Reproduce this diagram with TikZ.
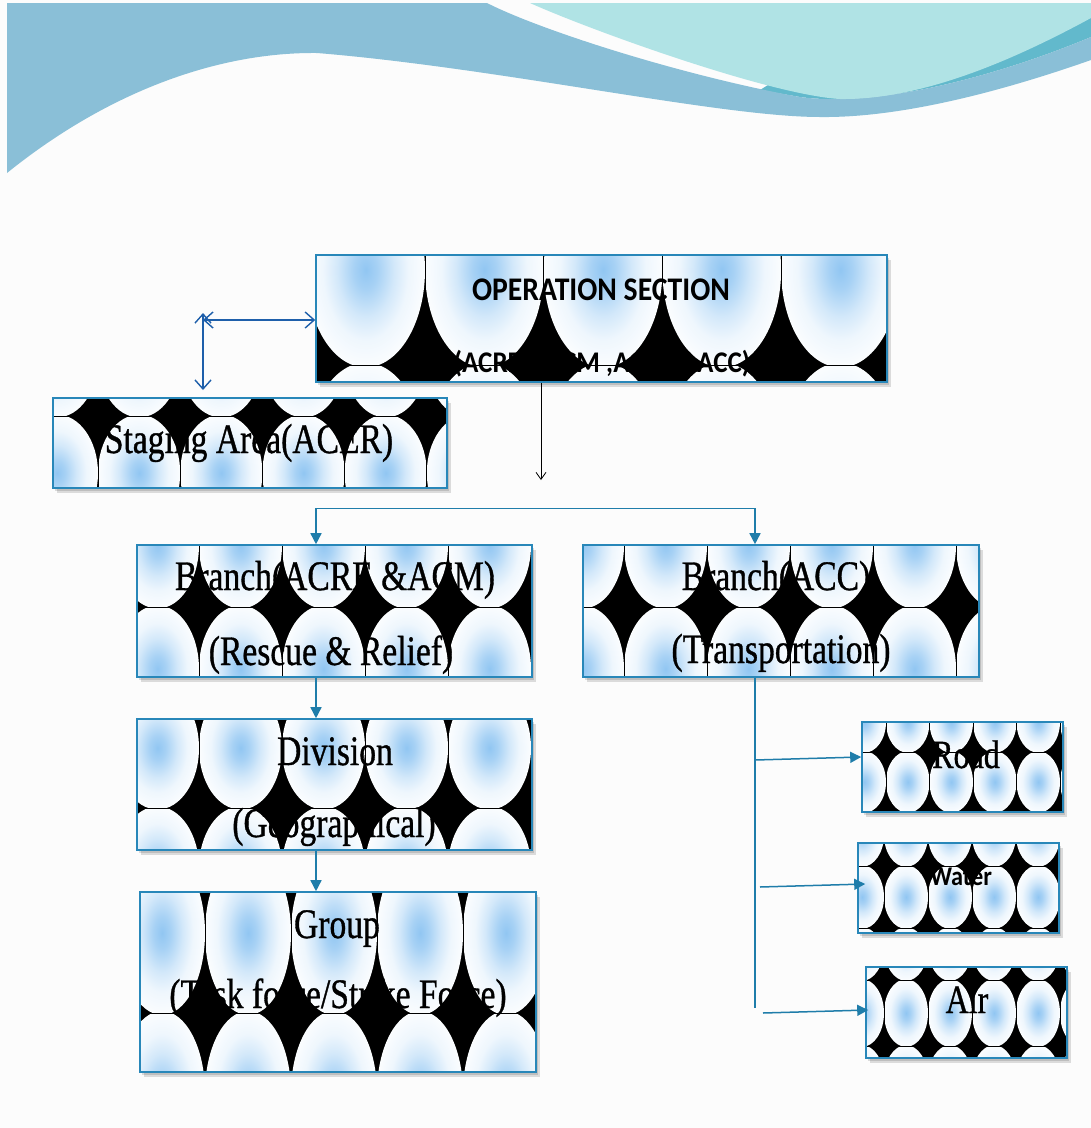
\documentclass[tikz,border=0pt]{standalone}
\usepackage{fontspec}
\setmainfont{Liberation Serif}[FakeStretch=0.8,FakeBold=0.8]
\newfontfamily\calfont{Carlito}[FakeStretch=0.9]
\usetikzlibrary{arrows.meta,fit,calc}

\definecolor{pagebg}{RGB}{252,252,252}
\definecolor{wavblue}{RGB}{138,191,215}
\definecolor{wavcyan}{RGB}{176,227,229}
\definecolor{wavteal}{RGB}{98,185,204}
\definecolor{tileblue}{RGB}{145,198,242}
\definecolor{boxline}{RGB}{40,135,185}
\definecolor{connteal}{RGB}{31,125,170}
\definecolor{dblblue}{RGB}{30,95,170}

\pgfdeclareradialshading{tileshade}{\pgfpoint{0bp}{0bp}}{%
  color(0bp)=(tileblue); color(5bp)=(tileblue!80!white);
  color(12bp)=(tileblue!40!white); color(18bp)=(tileblue!15!white);
  color(25bp)=(tileblue!4!white); color(50bp)=(white)}

\tikzset{
  pbox/.style={draw=boxline, line width=1.6pt, inner sep=0pt},
  tileline/.style={black, line width=0.7pt},
  boxshadow/.style={fill=black, opacity=0.13},
  conn/.style={draw=connteal, line width=1.5pt},
  tiptri/.style={-{Triangle[length=11pt,width=11pt]}},
  dbl/.style={draw=dblblue, line width=1.4pt, {Straight Barb[length=9pt,width=16pt]}-{Straight Barb[length=9pt,width=16pt]}},
  blk/.style={draw=black, line width=0.8pt, -{Straight Barb[length=7pt,width=10pt]}},
  lbl/.style={font=\fontsize{42}{44}\selectfont, anchor=base, inner sep=0pt},
  lblsm/.style={font=\fontsize{40}{42}\selectfont, anchor=base, inner sep=0pt},
  opslbl/.style={font=\calfont\bfseries\fontsize{33}{36}\selectfont, anchor=base, inner sep=0pt},
  wlbl/.style={font=\calfont\bfseries\fontsize{27}{29}\selectfont, anchor=base, inner sep=0pt}
}

\begin{document}
\begin{tikzpicture}[x=1pt,y=-1pt]

  % box fill: x1 y1 x2 y2, grid origin x0 y0, tile w h
  \newcommand*{\patfill}[8]{%
    \fill[boxshadow] (#1+2,#2+3) rectangle (#3+2,#4+3);
    \fill[boxshadow] (#1+4,#2+5) rectangle (#3+4,#4+5);
    \begin{scope}
      \clip (#1,#2) rectangle (#3,#4);
      \fill[black] (#1,#2) rectangle (#3,#4);
      \pgfmathtruncatemacro\iMin{floor((#1-#5)/#7)-1}%
      \pgfmathtruncatemacro\iMax{ceil((#3-#5)/#7)}%
      \pgfmathtruncatemacro\jMin{floor((#2-#6)/#8)-1}%
      \pgfmathtruncatemacro\jMax{ceil((#4-#6)/#8)}%
      \foreach \i in {\iMin,...,\iMax} {
        \foreach \j in {\jMin,...,\jMax} {
          \pgfmathsetmacro\cx{#5+(\i+0.5)*#7}%
          \pgfmathsetmacro\cy{#6+(\j+0.5)*#8}%
          \shade[shading=tileshade] (\cx,\cy) ellipse [x radius=#7/2, y radius=1.025*#8/2];
        }
        \pgfmathsetmacro\lx{#5+\i*#7}%
        \draw[tileline] (\lx,#2) -- (\lx,#4);
      }
      \foreach \j in {\jMin,...,\jMax} {
        \pgfmathsetmacro\ly{#6+\j*#8}%
        \draw[tileline] (#1,\ly) -- (#3,\ly);
      }
    \end{scope}}

  \useasboundingbox (0,0) rectangle (1091,1128);
  \fill[pagebg] (0,0) rectangle (1091,1128);

  % waves on top
  \fill[wavteal] (760,90) -- (800,97) .. controls (880,108) and (1000,75) .. (1091,37) -- (1091,3) -- (900,3) -- cycle;
  \fill[wavblue] (7,3) -- (487,3) .. controls (540,30) and (680,75) .. (800,97)
    .. controls (880,108) and (1000,75) .. (1091,37) -- (1091,60)
    .. controls (1000,92) and (900,118) .. (820,117)
    .. controls (720,117) and (500,68) .. (317,53)
    .. controls (220,52) and (110,90) .. (7,173) -- cycle;
  \fill[wavcyan] (530,3) -- (1091,3) -- (1091,18)
    .. controls (1010,62) and (920,100) .. (840,99)
    .. controls (770,95) and (590,30) .. (530,3) -- cycle;

  % boxes
  \patfill{316}{255}{887}{382}{425}{365}{118.7}{190}
  \node[pbox, fit={(316,255) (887,382)}] (ops) {};
  \patfill{53}{398}{447}{488}{98}{416}{82.2}{114}
  \node[pbox, fit={(53,398) (447,488)}] (stage) {};
  \patfill{137}{545}{532}{677}{199}{607}{83}{124}
  \node[pbox, fit={(137,545) (532,677)}] (brA) {};
  \patfill{583}{545}{979}{677}{624}{607}{83}{124}
  \node[pbox, fit={(583,545) (979,677)}] (brC) {};
  \patfill{137}{719}{532}{850}{199}{808}{83}{120}
  \node[pbox, fit={(137,719) (532,850)}] (div) {};
  \patfill{140}{892}{536}{1072}{205}{1013}{86}{160}
  \node[pbox, fit={(140,892) (536,1072)}] (grp) {};
  \patfill{862}{722}{1063}{812}{886}{752}{43.5}{60}
  \node[pbox, fit={(862,722) (1063,812)}] (road) {};
  \patfill{858}{843}{1059}{933}{884}{866}{44}{62}
  \node[pbox, fit={(858,843) (1059,933)}] (water) {};
  \patfill{866}{967}{1067}{1058}{884}{980}{44}{66}
  \node[pbox, fit={(866,967) (1067,1058)}] (air) {};

  % labels
  \node[opslbl] (ops-a) at (601,300) {OPERATION SECTION};
  \node[opslbl, font=\calfont\bfseries\fontsize{30}{32}\selectfont] (ops-b) at (602,372) {(ACRE \&ACM ,ACER \&ACC)};
  \node[lbl] (stage-a) at (249,453) {Staging Area(ACER)};
  \node[lbl] (brA-a) at (335,590) {Branch(ACRE \&ACM)};
  \node[lbl] (brA-b) at (331,665) {(Rescue \& Relief)};
  \node[lbl] (brC-a) at (776,590) {Branch(ACC)};
  \node[lbl] (brC-b) at (781,663) {(Transportation)};
  \node[lbl] (div-a) at (335,765) {Division};
  \node[lbl] (div-b) at (334,837) {(Geographical)};
  \node[lbl] (grp-a) at (337,938) {Group};
  \node[lbl] (grp-b) at (338,1008) {(Task force/Strike Force)};
  \node[lblsm] (road-a) at (966,768) {Road};
  \node[wlbl] (water-a) at (961,885) {Water};
  \node[lblsm] (air-a) at (967,1013) {Air};

  % connectors
  \coordinate (dA) at (203,320);
  \coordinate (dT) at (203,313);
  \coordinate (dB) at (203,390);
  \draw[dbl] (dA) -- (ops.west |- dA);
  \draw[dbl] (dT) -- (dB);

  \coordinate (opsdrop) at (541,480);
  \draw[blk] (opsdrop |- ops.south) -- (opsdrop);

  \coordinate (bl) at (316,508);
  \coordinate (br) at (755,508);
  \draw[conn, line width=1pt] (bl) -- (br);
  \draw[conn, tiptri] (bl) -- (bl |- brA.north);
  \draw[conn, tiptri] (br) -- (br |- brC.north);
  \draw[conn, tiptri] (bl |- brA.south) -- (bl |- div.north);
  \draw[conn, tiptri] (bl |- div.south) -- (bl |- grp.north);

  \coordinate (tr) at (755,1008);
  \draw[conn] (br |- brC.south) -- (tr);
  \coordinate (rA) at (755,760);
  \coordinate (rW) at (760,887);
  \coordinate (rR) at (763,1013);
  \draw[conn, tiptri] (rA) -- ([yshift=10pt]road.west);
  \draw[conn, tiptri] (rW) -- ([xshift=8pt,yshift=4pt]water.west);
  \draw[conn, tiptri] (rR) -- ([xshift=3pt,yshift=2.5pt]air.west);

\end{tikzpicture}
\end{document}
